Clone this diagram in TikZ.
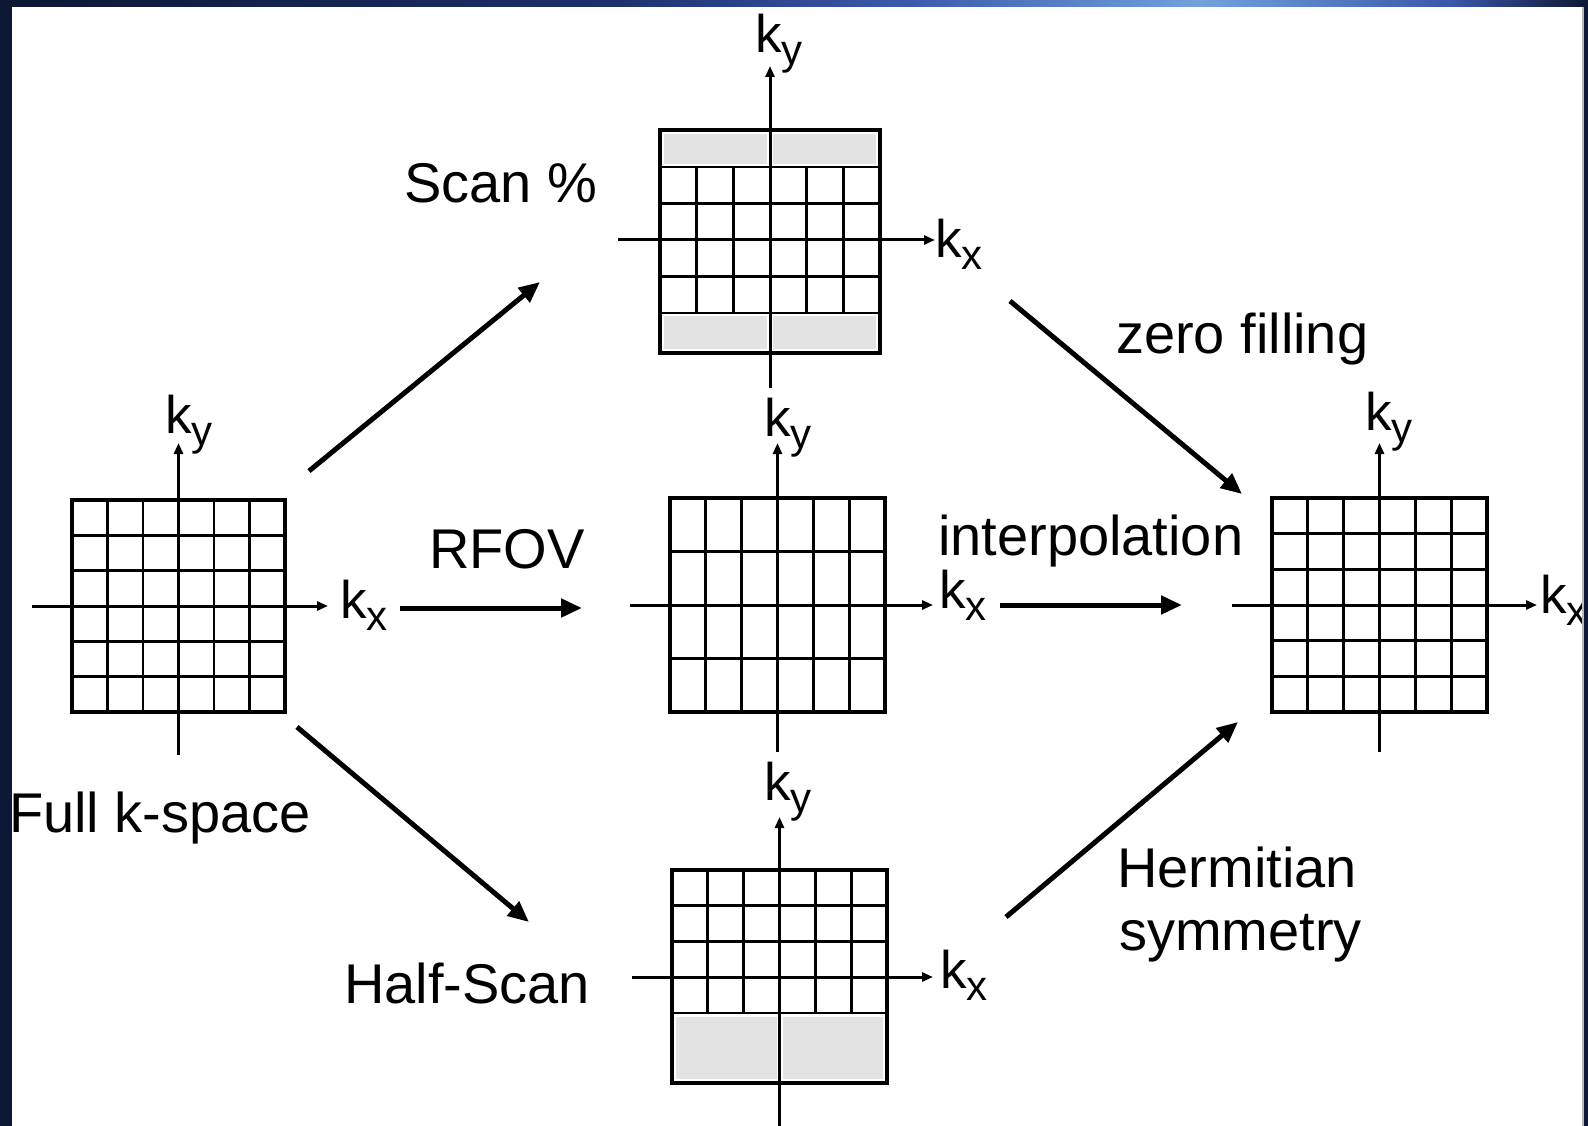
\documentclass[tikz,border=0pt]{standalone}
\usepackage{fontspec}
\setmainfont{Liberation Sans}
\usetikzlibrary{arrows.meta}
\definecolor{navy}{HTML}{0C1733}
\definecolor{navyb}{HTML}{1C2F6A}
\definecolor{midblue}{HTML}{3B58AA}
\definecolor{lightblue}{HTML}{72A2DC}
\definecolor{bandgray}{HTML}{E3E3E3}
\newcommand{\klab}[1]{\fontsize{53}{53}\selectfont k\raisebox{-12pt}{\fontsize{42}{42}\selectfont #1}}
\tikzset{
  gline/.style={line width=2.9pt},
  gborder/.style={line width=3.8pt},
  kaxis/.style={line width=3pt,-{Triangle[length=11pt,width=9pt]}},
  flow/.style={line width=5pt,-{Triangle[length=21pt,width=18pt]}},
  band/.style={fill=bandgray},
  lbl/.style={font=\fontsize{56}{60}\selectfont,inner sep=0pt,anchor=base west},
  klbl/.style={inner sep=0pt,anchor=base west}
}
\begin{document}
\begin{tikzpicture}[x=1pt,y=-1pt]
\useasboundingbox (0,0) rectangle (1588,1126);
% slide background
\fill[navy] (0,0) rectangle (1588,1126);
\shade[left color=navy,right color=navyb] (0,0) rectangle (600,7);
\shade[left color=navyb,right color=midblue] (600,0) rectangle (900,7);
\shade[left color=midblue,right color=lightblue] (900,0) rectangle (1200,7);
\shade[left color=lightblue,right color=midblue] (1200,0) rectangle (1450,7);
\shade[left color=midblue,right color=navy] (1450,0) rectangle (1588,7);
\fill[white] (12,7) rectangle (1582,1126);

% ---------- G1: full k-space (6x6) ----------
\foreach \i in {1,...,5} {
  \draw[gline] (72+35.5*\i,500) -- (72+35.5*\i,712);
  \draw[gline] (72,500+35.33*\i) -- (285,500+35.33*\i);
}
\draw[gborder] (72,500) rectangle (285,712);
\draw[kaxis] (32,606) -- (328,606);
\draw[kaxis] (178.5,755) -- (178.5,443);
\node[klbl] (g1ky) at (165,433) {\klab{y}};
\node[klbl] (g1kx) at (340,618) {\klab{x}};

% ---------- G2: Scan % ----------
\fill[band] (664,134) rectangle (767,164);
\fill[band] (773,134) rectangle (876,164);
\fill[band] (664,316) rectangle (767,349);
\fill[band] (773,316) rectangle (876,349);
\foreach \i in {1,2,4,5} {
  \draw[gline] (660+36.67*\i,167) -- (660+36.67*\i,313);
}
\foreach \y in {167,203.5,276.5,313} {
  \draw[gline] (660,\y) -- (880,\y);
}
\draw[gborder] (660,130) rectangle (880,353);
\draw[kaxis] (618,240) -- (935,240);
\draw[kaxis] (770,388) -- (770,66);
\node[klbl] (g2ky) at (755,53) {\klab{y}};
\node[klbl] (g2kx) at (935,258) {\klab{x}};

% ---------- G3: RFOV (6x4) ----------
\foreach \i in {1,2,4,5} {
  \draw[gline] (670+35.83*\i,498) -- (670+35.83*\i,712);
}
\foreach \y in {551.5,658.5} {
  \draw[gline] (670,\y) -- (885,\y);
}
\draw[gborder] (670,498) rectangle (885,712);
\draw[kaxis] (630,605) -- (933,605);
\draw[kaxis] (777.5,752) -- (777.5,443);
\node[klbl] (g3ky) at (764,436) {\klab{y}};
\node[klbl] (g3kx) at (939,608) {\klab{x}};

% ---------- G4: Half-Scan ----------
\fill[band] (676,1017) rectangle (776.5,1079);
\fill[band] (782.5,1017) rectangle (883,1079);
\foreach \i in {1,2,4,5} {
  \draw[gline] (672+35.83*\i,870) -- (672+35.83*\i,1013);
}
\foreach \y in {905.75,941.5,1013} {
  \draw[gline] (672,\y) -- (887,\y);
}
\draw[gborder] (672,870) rectangle (887,1083);
\draw[kaxis] (632,977) -- (933,977);
\draw[kaxis] (779.5,1126) -- (779.5,817);
\node[klbl] (g4ky) at (764,800) {\klab{y}};
\node[klbl] (g4kx) at (940,988) {\klab{x}};

% ---------- G5: result (6x6) ----------
\foreach \i in {1,...,5} {
  \draw[gline] (1272+35.83*\i,498) -- (1272+35.83*\i,712);
  \draw[gline] (1272,498+35.67*\i) -- (1487,498+35.67*\i);
}
\draw[gborder] (1272,498) rectangle (1487,712);
\draw[kaxis] (1232,605) -- (1537,605);
\draw[kaxis] (1379.5,752) -- (1379.5,443);
\node[klbl] (g5ky) at (1365,430) {\klab{y}};
\node[klbl] (g5kx) at (1540,613) {\klab{x}};

% ---------- labels ----------
\node[lbl] (scan) at (404,203) {Scan \%};
\node[lbl] (rfov) at (429,568) {RFOV};
\node[lbl] (full) at (9,832) {Full k-space};
\node[lbl] (half) at (344,1003) {Half-Scan};
\node[lbl] (zero) at (1116,353) {zero filling};
\node[lbl] (interp) at (938,555) {interpolation};
\node[lbl] (herm) at (1117,887) {Hermitian};
\node[lbl] (symm) at (1119,950) {symmetry};

% ---------- flow arrows ----------
\coordinate (a1s) at (309,471); \coordinate (a1e) at (540,282);
\coordinate (a2s) at (400,608); \coordinate (a2e) at (582,608);
\coordinate (a3s) at (297,727); \coordinate (a3e) at (529,922);
\coordinate (a4s) at (1010,301); \coordinate (a4e) at (1242,494);
\coordinate (a5s) at (1000,605); \coordinate (a5e) at (1182,605);
\coordinate (a6s) at (1006,917); \coordinate (a6e) at (1238,722);
\draw[flow] (a1s) -- (a1e);
\draw[flow] (a2s) -- (a2e);
\draw[flow] (a3s) -- (a3e);
\draw[flow] (a4s) -- (a4e);
\draw[flow] (a5s) -- (a5e);
\draw[flow] (a6s) -- (a6e);

% right frame edge over the clipped label
\fill[gray!55] (1582,7) rectangle (1584,1126);
\fill[navy] (1584,0) rectangle (1588,1126);
\end{tikzpicture}
\end{document}
